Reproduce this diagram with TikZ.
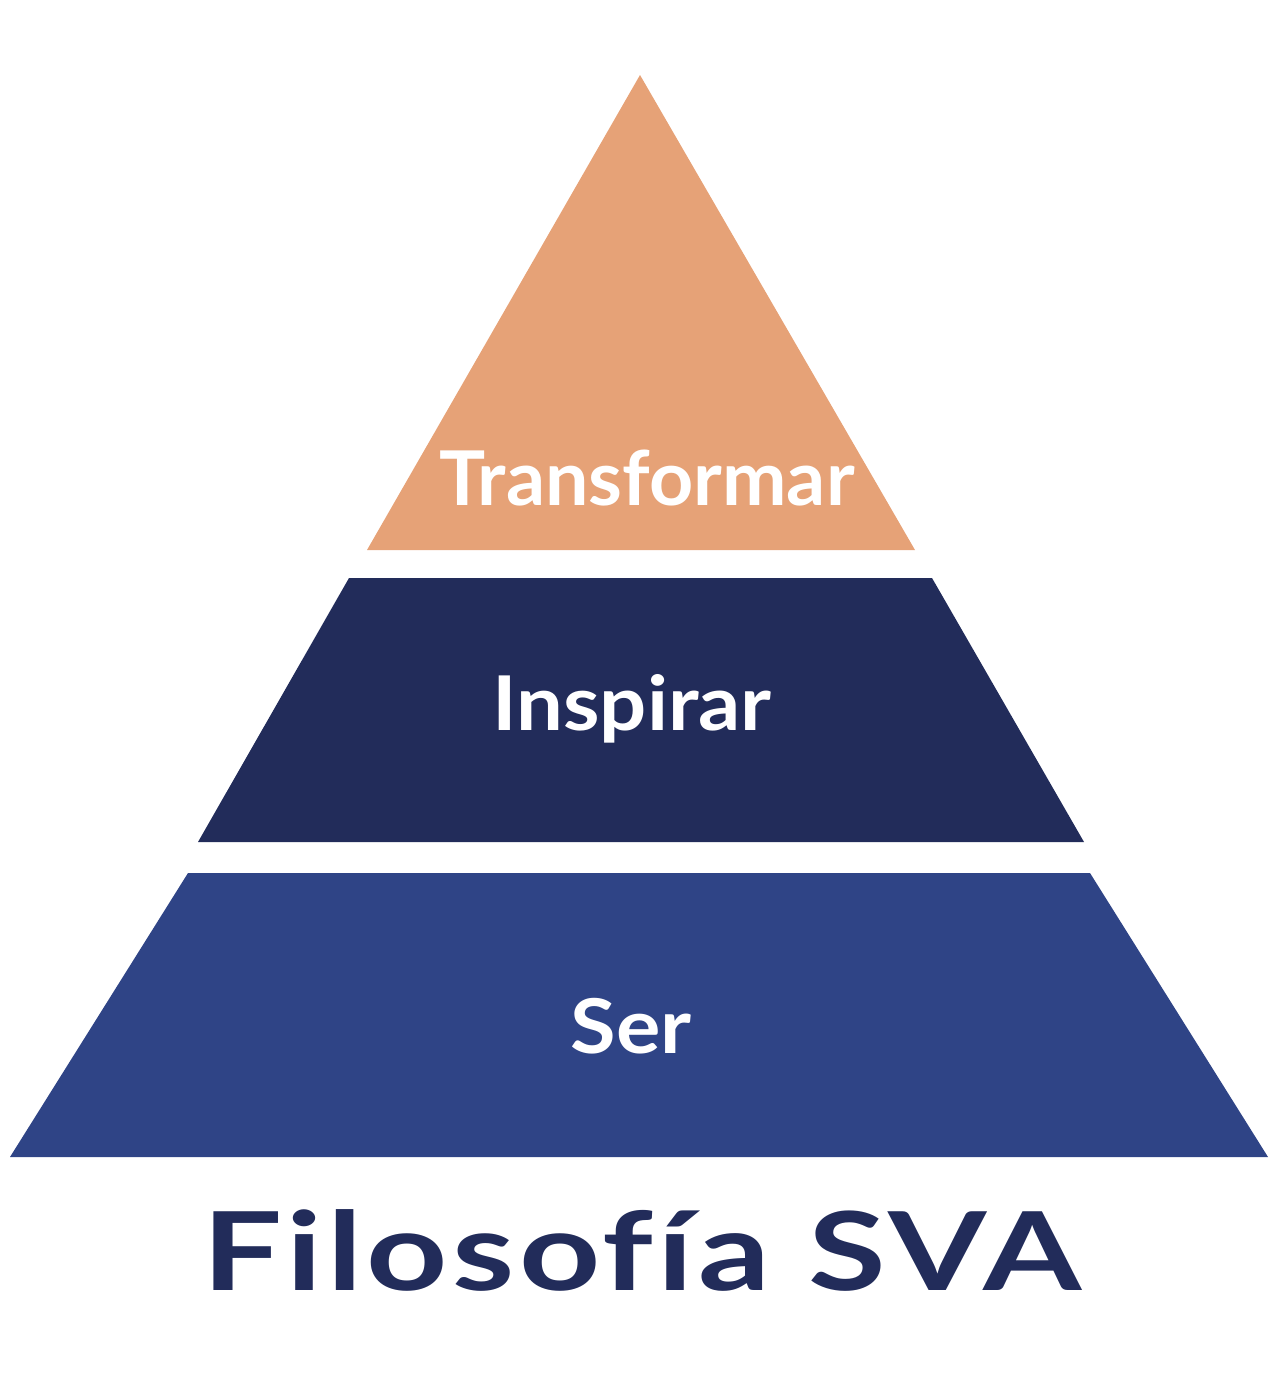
\documentclass[tikz,border=0pt]{standalone}
\usepackage{fontspec}
\setmainfont{Lato}[Ligatures=NoCommon]
\usepackage{tikz}
\definecolor{peach}{HTML}{E6A277}
\definecolor{navy}{HTML}{222C5A}
\definecolor{royal}{HTML}{2F4486}
\tikzset{
  layerlabel/.style = {text=white, font=\fontsize{43}{48}\selectfont\bfseries,
                       inner sep=0pt, anchor=base},
  titlelabel/.style = {text=navy, font=\fontsize{62}{70}\selectfont\bfseries,
                       inner sep=0pt, anchor=base}
}
\newcommand{\widetitle}[1]{\scalebox{1.3}[1]{\addfontfeature{LetterSpace=3}#1}}

\begin{document}
\begin{tikzpicture}[x=0.02cm, y=-0.02cm]
  \useasboundingbox (0,0) rectangle (1280,1396);
  % layers of the pyramid
  \fill[peach] (640,75) -- (915,550) -- (367,550) -- cycle;
  \fill[navy]  (349,578) -- (932,578) -- (1084,842) -- (198,842) -- cycle;
  \fill[royal] (188,873) -- (1090,873) -- (1268,1157) -- (10,1157) -- cycle;
  % labels
  \node[layerlabel] (top) at (647,505)  {\scalebox{1.02}[1]{Transformar}};
  \node[layerlabel] (mid) at (632,730)  {\scalebox{1.1}[1]{Inspirar}};
  \node[layerlabel] (bot) at (631,1053) {\scalebox{1.1}[1]{Ser}};
  \node[titlelabel] (title) at (642,1290) {\widetitle{Filosofía SVA}};
\end{tikzpicture}
\end{document}
